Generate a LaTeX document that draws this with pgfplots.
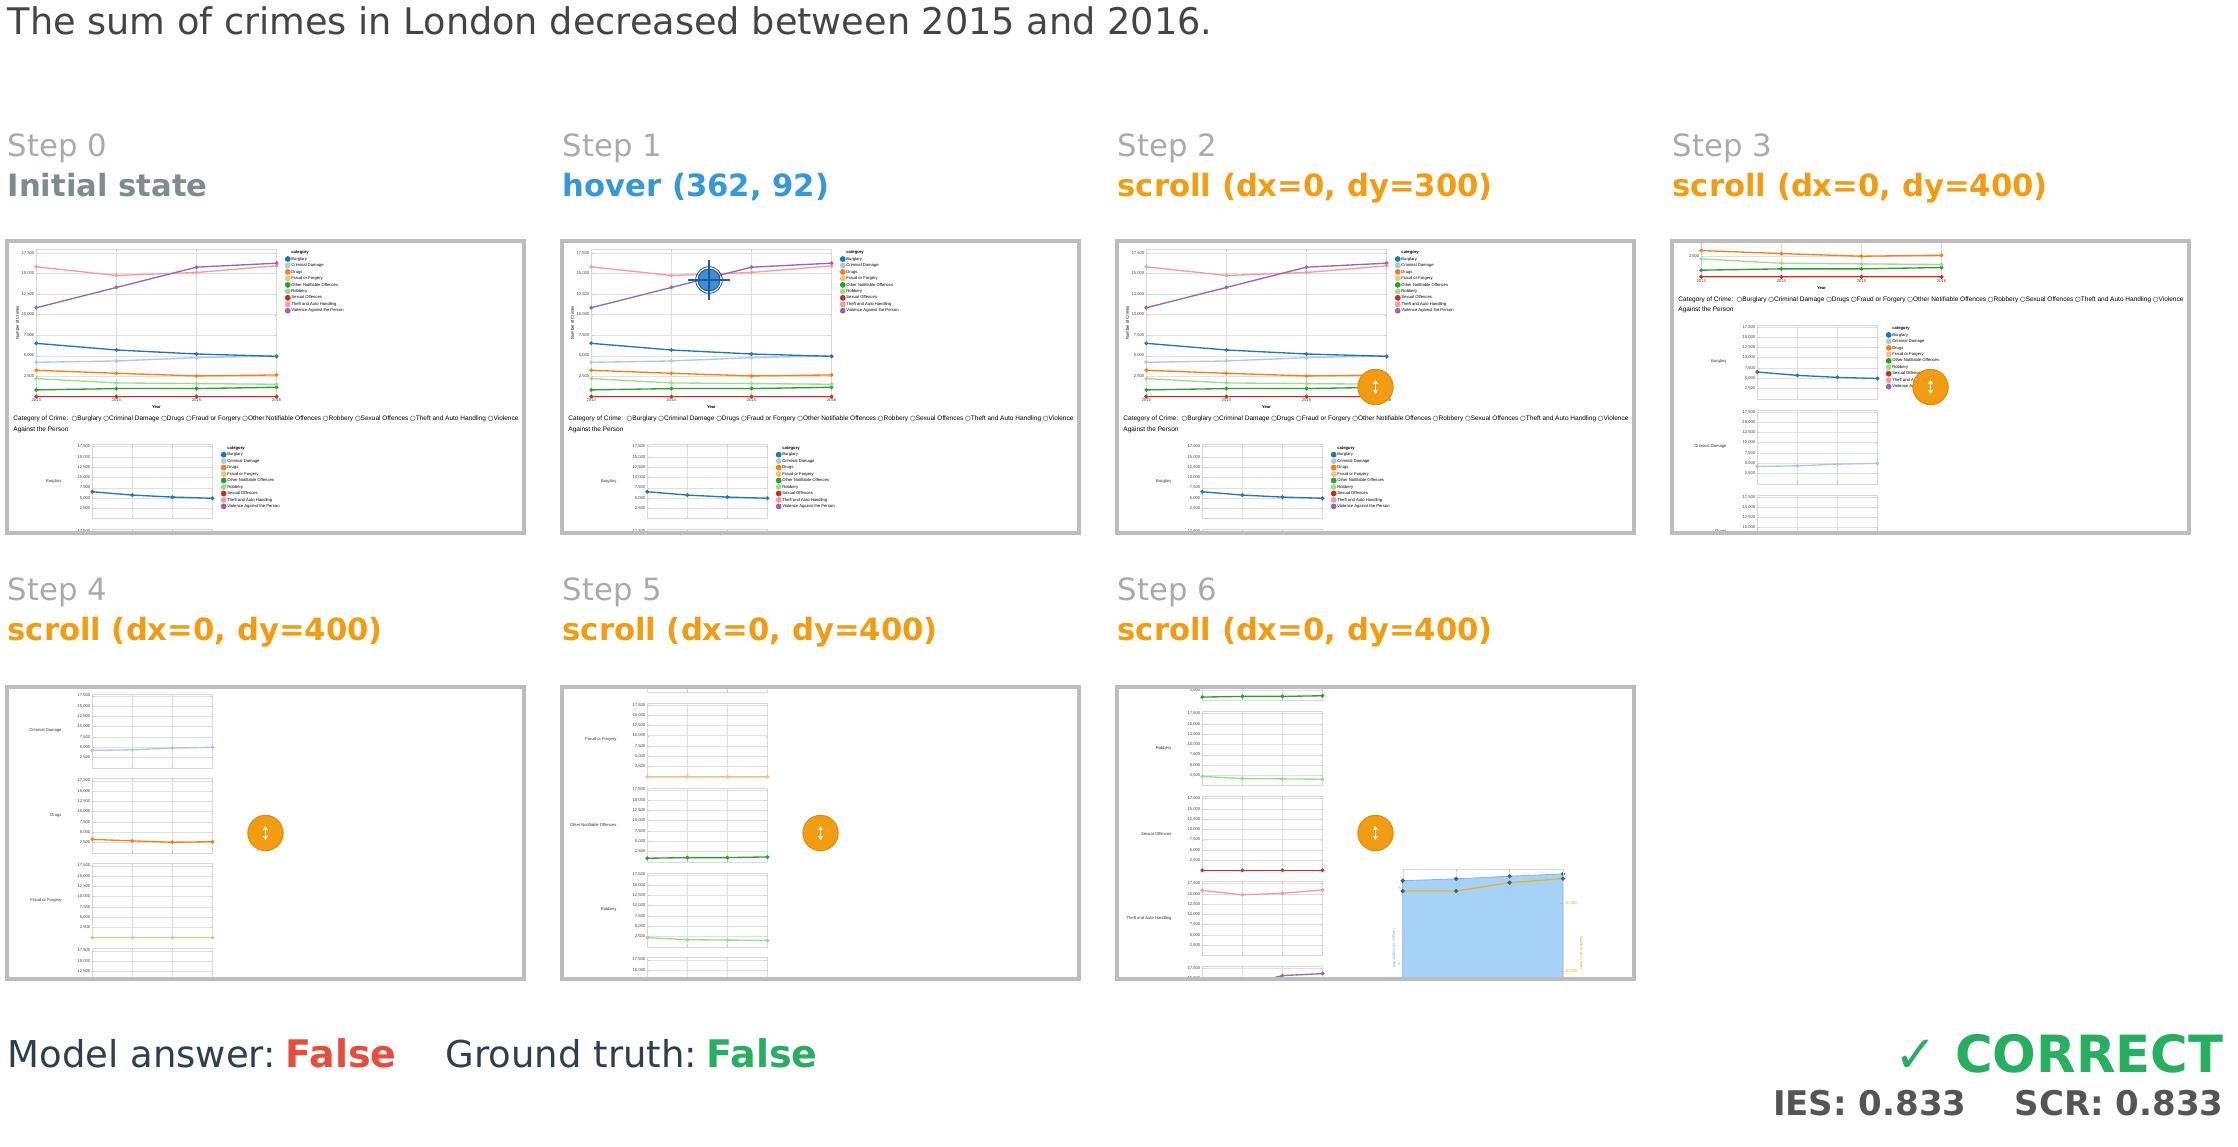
\documentclass[border=0pt]{standalone}
\usepackage{pgfplots}
\pgfplotsset{compat=1.18}
\usepackage{pgfplotstable}
\usepackage{fontspec}
\usepackage{graphicx}
\usetikzlibrary{arrows.meta}
\setmainfont{DejaVu Sans}
\newfontfamily\webfont{Liberation Sans}
\newfontfamily\symfont{DejaVu Sans}

% category colours (vega category20)
\definecolor{cBur}{HTML}{1F77B4}
\definecolor{cCD}{HTML}{AEC7E8}
\definecolor{cDr}{HTML}{FF7F0E}
\definecolor{cFF}{HTML}{FFBB78}
\definecolor{cON}{HTML}{2CA02C}
\definecolor{cRob}{HTML}{98DF8A}
\definecolor{cSO}{HTML}{D62728}
\definecolor{cTh}{HTML}{FF9896}
\definecolor{cVio}{HTML}{9467BD}
% page colours
\definecolor{titlegray}{HTML}{444444}
\definecolor{stepgray}{HTML}{AAAAAA}
\definecolor{initgray}{HTML}{7F8C8D}
\definecolor{hoverblue}{HTML}{3498DB}
\definecolor{scrollorange}{HTML}{F39C12}
\definecolor{darktext}{HTML}{2C3E50}
\definecolor{falsered}{HTML}{E74C3C}
\definecolor{okgreen}{HTML}{27AE60}
\definecolor{scoregray}{HTML}{555555}
\definecolor{framegray}{HTML}{BDBDBD}
\definecolor{iconedge}{HTML}{E08A0A}
\definecolor{markblue}{HTML}{3C8FD8}
\definecolor{markdark}{HTML}{1F5A99}
\definecolor{areablue}{HTML}{A6D2F8}
\definecolor{areaedge}{HTML}{7DB8EC}
\definecolor{navydot}{HTML}{3B5C8C}
\definecolor{gold}{HTML}{E6B422}

\newcommand\tinyf{\webfont\fontsize{1.25}{1.5}\selectfont}
\newcommand\radiotext{Category of Crime:\ \ {\symfont○}Burglary {\symfont○}Criminal Damage {\symfont○}Drugs {\symfont○}Fraud or Forgery {\symfont○}Other Notifiable Offences {\symfont○}Robbery {\symfont○}Sexual Offences {\symfont○}Theft and Auto Handling {\symfont○}Violence}

\pgfplotstableread{
year bur  cd   dr   ff on   rob  so th    vio
2013 6513 4207 3236 15 850  2225 45 15817 10841
2014 5704 4369 2872 15 1011 1699 45 14765 13309
2015 5218 4773 2549 15 1011 1618 45 15130 15777
2016 4935 4976 2670 15 1173 1537 45 15939 16262
}\crimes

\pgfplotstableread{
year pop  sum
2013 6.20 43530
2014 6.25 43530
2015 6.32 45980
2016 6.38 47160
}\totals

\pgfplotsset{
  web/.style={scale only axis, clip=false,
    xmin=2013, xmax=2016, ymin=0, ymax=18000,
    xtick={2013,2014,2015,2016}, ytick={2500,5000,...,17500},
    scaled x ticks=false, scaled y ticks=false,
    grid=major, major grid style={draw=black!12, line width=0.12pt},
    axis line style={draw=black!15, line width=0.12pt},
    major tick length=0.5pt, tick style={draw=black!25, line width=0.1pt},
    ticklabel style={font=\tinyf, text=black!75, inner sep=0.4pt},
    /pgf/number format/assume math mode=true,
    yticklabel style={/pgf/number format/.cd, 1000 sep={,}},
    xticklabel style={/pgf/number format/.cd, 1000 sep={}},
    legend cell align=left,
    legend image code/.code={\fill (0.6pt,0pt) circle (0.65pt);},
    legend style={draw=none, fill=none, at={(1,1)}, anchor=north west,
      xshift=2.3pt, inner sep=0pt, row sep=0.14pt, font=\tinyf,
      nodes={inner sep=0.25pt, text height=1.0pt, text depth=0.3pt}},
  },
  ser/.style={color=#1, line width=0.4pt, mark=*, mark size=0.35pt},
}

\newcommand\catimages{%
  \addlegendimage{empty legend}\addlegendentry{\textbf{category}}%
  \addlegendimage{ser=cBur}\addlegendentry{Burglary}%
  \addlegendimage{ser=cCD}\addlegendentry{Criminal Damage}%
  \addlegendimage{ser=cDr}\addlegendentry{Drugs}%
  \addlegendimage{ser=cFF}\addlegendentry{Fraud or Forgery}%
  \addlegendimage{ser=cON}\addlegendentry{Other Notifiable Offences}%
  \addlegendimage{ser=cRob}\addlegendentry{Robbery}%
  \addlegendimage{ser=cSO}\addlegendentry{Sexual Offences}%
  \addlegendimage{ser=cTh}\addlegendentry{Theft and Auto Handling}%
  \addlegendimage{ser=cVio}\addlegendentry{Violence Against the Person}%
}

% overview chart: panel x, panel y, scroll offset (in panel heights)
\newcommand\mainchart[3]{%
  \coordinate (m) at ({#1+29.26},{#2+(0.027-#3)*292});
  \begin{axis}[web, at={(m)}, anchor=north west, width=72.1pt, height=44.4pt,
    xlabel={\textbf{Year}}, ylabel={Number of Crimes},
    xlabel style={font=\tinyf, at={(axis description cs:0.5,-0.072)}, anchor=center},
    ylabel style={font=\tinyf, at={(axis description cs:-0.079,0.5)}, anchor=center}]
    \catimages
    \addplot[ser=cFF, forget plot] table[x=year,y=ff]{\crimes};
    \addplot[ser=cSO, forget plot] table[x=year,y=so]{\crimes};
    \addplot[ser=cON, forget plot] table[x=year,y=on]{\crimes};
    \addplot[ser=cRob, forget plot] table[x=year,y=rob]{\crimes};
    \addplot[ser=cDr, forget plot] table[x=year,y=dr]{\crimes};
    \addplot[ser=cCD, forget plot] table[x=year,y=cd]{\crimes};
    \addplot[ser=cBur, forget plot] table[x=year,y=bur]{\crimes};
    \addplot[ser=cTh, forget plot] table[x=year,y=th]{\crimes};
    \addplot[ser=cVio, forget plot] table[x=year,y=vio]{\crimes};
  \end{axis}}

% radio buttons line
\newcommand\radio[3]{%
  \node[anchor=west, inner sep=0] at ({#1+5.8},{#2+(0.6105-#3)*292})
    {\scalebox{\rs}{\webfont\fontsize{10}{12}\selectfont\radiotext}};
  \node[anchor=west, inner sep=0] at ({#1+5.8},{#2+(0.647-#3)*292})
    {\scalebox{\rs}{\webfont\fontsize{10}{12}\selectfont Against the Person}};}

% first small multiple with its legend
\newcommand\smlead[3]{%
  \coordinate (q) at ({#1+85.3},{#2+(0.697-#3)*292});
  \begin{axis}[web, at={(q)}, anchor=north west, width=36.06pt, height=22.2pt, xticklabels={}]
    \catimages
    \addplot[ser=cBur, forget plot] table[x=year,y=bur]{\crimes};
    \node[anchor=east, font=\tinyf, text=black!80, xshift=-5.7pt] at (rel axis cs:0,0.5) {Burglary};
  \end{axis}}

% small multiple k: X Y s k column colour name
\newcommand\sm[7]{%
  \coordinate (q) at ({#1+85.3},{#2+(0.697+0.291*#4-#3)*292});
  \begin{axis}[web, at={(q)}, anchor=north west, width=36.06pt, height=22.2pt, xticklabels={}]
    \addplot[ser=#6] table[x=year,y=#5]{\crimes};
    \node[anchor=east, font=\tinyf, text=black!80, xshift=-5.7pt] at (rel axis cs:0,0.5) {#7};
  \end{axis}}

\newcommand\topcontent[3]{%
  \mainchart{#1}{#2}{#3}%
  \radio{#1}{#2}{#3}%
  \smlead{#1}{#2}{#3}%
  \sm{#1}{#2}{#3}{1}{cd}{cCD}{Criminal Damage}}

\newcommand\scrollicon[2]{%
  \fill[scrollorange, draw=iconedge, line width=0.3pt] ({#1+258.5},{#2+146}) circle (5.3pt);
  \draw[white, line width=0.55pt, {Stealth[length=1.3pt,width=1.6pt]}-{Stealth[length=1.3pt,width=1.6pt]}]
    ({#1+258.5},{#2+139}) -- ({#1+258.5},{#2+153});}

\newcommand\frameit[2]{\draw[line width=1pt, draw=framegray] (#1,#2) rectangle ++(517,292);}

\newlength\radw
\settowidth\radw{\webfont\fontsize{10}{12}\selectfont\radiotext}

\begin{document}%
\pgfmathsetmacro\rs{151.5/\radw}%
\begin{tikzpicture}[x=0.3pt,y=-0.3pt]
\useasboundingbox (0,0) rectangle (2238,1146);

% title
\node[anchor=base west, inner sep=0, text=titlegray, font=\fontsize{11}{13}\selectfont]
  at (7,34) {The sum of crimes in London decreased between 2015 and 2016.};

% step captions
\foreach \x/\n in {7/0,562/1,1117/2,1672/3}
  \node[anchor=base west, inner sep=0, text=stepgray, font=\fontsize{9.2}{11}\selectfont] at (\x,156) {Step \n};
\foreach \x/\n in {7/4,562/5,1117/6}
  \node[anchor=base west, inner sep=0, text=stepgray, font=\fontsize{9.2}{11}\selectfont] at (\x,600) {Step \n};
\node[anchor=base west, inner sep=0, text=initgray, font=\bfseries\fontsize{9.2}{11}\selectfont] at (7,196) {Initial state};
\node[anchor=base west, inner sep=0, text=hoverblue, font=\bfseries\fontsize{9.2}{11}\selectfont] at (562,196) {hover (362, 92)};
\node[anchor=base west, inner sep=0, text=scrollorange, font=\bfseries\fontsize{9.2}{11}\selectfont] at (1117,196) {scroll (dx=0, dy=300)};
\node[anchor=base west, inner sep=0, text=scrollorange, font=\bfseries\fontsize{9.2}{11}\selectfont] at (1672,196) {scroll (dx=0, dy=400)};
\foreach \x in {7,562,1117}
  \node[anchor=base west, inner sep=0, text=scrollorange, font=\bfseries\fontsize{9.2}{11}\selectfont] at (\x,640) {scroll (dx=0, dy=400)};

% step 0
\begin{scope}
  \clip (8.5,242.5) rectangle ++(514,289);
  \topcontent{7}{241}{0}
\end{scope}
\frameit{7}{241}

% step 1
\begin{scope}
  \clip (563.5,242.5) rectangle ++(514,289);
  \topcontent{562}{241}{0}
  \fill[markblue, draw=markdark, line width=0.3pt] (709,280) circle (3.3pt);
  \draw[markdark, line width=0.25pt] (709,280) circle (4.0pt);
  \draw[markdark, line width=0.45pt] (688,280) -- (730,280);
  \draw[markdark, line width=0.45pt] (709,260) -- (709,300);
\end{scope}
\frameit{562}{241}

% step 2
\begin{scope}
  \clip (1118.5,242.5) rectangle ++(514,289);
  \topcontent{1117}{241}{0}
  \scrollicon{1117}{241}
\end{scope}
\frameit{1117}{241}

% step 3
\begin{scope}
  \clip (1673.5,242.5) rectangle ++(514,289);
  \topcontent{1672}{241}{0.41}
  \sm{1672}{241}{0.41}{2}{dr}{cDr}{Drugs}
  \scrollicon{1672}{241}
\end{scope}
\frameit{1672}{241}

% step 4
\begin{scope}
  \clip (8.5,688.5) rectangle ++(514,289);
  \sm{7}{687}{0.965}{1}{cd}{cCD}{Criminal Damage}
  \sm{7}{687}{0.965}{2}{dr}{cDr}{Drugs}
  \sm{7}{687}{0.965}{3}{ff}{cFF}{Fraud or Forgery}
  \sm{7}{687}{0.965}{4}{on}{cON}{Other Notifiable Offences}
  \scrollicon{7}{687}
\end{scope}
\frameit{7}{687}

% step 5
\begin{scope}
  \clip (563.5,688.5) rectangle ++(514,289);
  \sm{562}{687}{1.516}{2}{dr}{cDr}{Drugs}
  \sm{562}{687}{1.516}{3}{ff}{cFF}{Fraud or Forgery}
  \sm{562}{687}{1.516}{4}{on}{cON}{Other Notifiable Offences}
  \sm{562}{687}{1.516}{5}{rob}{cRob}{Robbery}
  \sm{562}{687}{1.516}{6}{so}{cSO}{Sexual Offences}
  \scrollicon{562}{687}
\end{scope}
\frameit{562}{687}

% step 6
\begin{scope}
  \clip (1118.5,688.5) rectangle ++(514,289);
  \sm{1117}{687}{2.068}{4}{on}{cON}{Other Notifiable Offences}
  \sm{1117}{687}{2.068}{5}{rob}{cRob}{Robbery}
  \sm{1117}{687}{2.068}{6}{so}{cSO}{Sexual Offences}
  \sm{1117}{687}{2.068}{7}{th}{cTh}{Theft and Auto Handling}
  \sm{1117}{687}{2.068}{8}{vio}{cVio}{Violence Against the Person}
  \coordinate (ar) at ({1117+285.7},{687+182.2});
  \begin{axis}[scale only axis, clip=false, at={(ar)}, anchor=north west,
    width=48.1pt, height=74.0pt,
    xmin=2013, xmax=2016, ymin=0, ymax=6.504,
    xtick={2013,2014,2015,2016}, xticklabels={}, ytick={4,6},
    xmajorgrids, major grid style={draw=black!10, line width=0.12pt},
    axis y line*=left, axis line style={draw=black!15, line width=0.12pt},
    major tick length=0.5pt, tick style={draw=areaedge, line width=0.1pt},
    /pgf/number format/assume math mode=true,
    ticklabel style={font=\tinyf, text=areaedge, inner sep=0.4pt},
    ylabel={population (in million)},
    ylabel style={font=\tinyf, text=areaedge, at={(axis description cs:-0.054,0.68)}, anchor=center}]
    \addplot[fill=areablue, draw=areaedge, line width=0.25pt] table[x=year,y=pop]{\totals} \closedcycle;
    \addplot[only marks, mark=*, mark size=0.4pt, mark options={draw=navydot, fill=navydot}] table[x=year,y=pop]{\totals};
  \end{axis}
  \begin{axis}[scale only axis, clip=false, at={(ar)}, anchor=north west,
    width=48.1pt, height=74.0pt,
    xmin=2013, xmax=2016, ymin=-22110, ymax=49900,
    ytick={20000,40000}, scaled y ticks=false,
    axis y line*=right, axis x line=none,
    axis line style={draw=black!15, line width=0.12pt},
    major tick length=0.5pt, tick style={draw=gold, line width=0.1pt},
    /pgf/number format/assume math mode=true,
    yticklabel style={/pgf/number format/.cd, 1000 sep={,}},
    ticklabel style={font=\tinyf, text=gold, inner sep=0.4pt},
    ylabel={Number of Crimes},
    ylabel style={font=\tinyf, text=gold, at={(axis description cs:1.116,0.66)}, anchor=center, rotate=180}]
    \addplot[color=gold, line width=0.4pt, mark=*, mark size=0.4pt, mark options={draw=navydot, fill=navydot}] table[x=year,y=sum]{\totals};
  \end{axis}
  \scrollicon{1117}{687}
\end{scope}
\frameit{1117}{687}

% verdict
\node[anchor=base west, inner sep=0, text=darktext, font=\fontsize{11.1}{13}\selectfont] at (7,1067) {Model answer:};
\node[anchor=base west, inner sep=0, text=falsered, font=\bfseries\fontsize{11.4}{13}\selectfont] at (285,1067) {False};
\node[anchor=base west, inner sep=0, text=darktext, font=\fontsize{11.1}{13}\selectfont] at (445,1067) {Ground truth:};
\node[anchor=base west, inner sep=0, text=okgreen, font=\bfseries\fontsize{11.4}{13}\selectfont] at (706,1067) {False};
\node[anchor=base east, inner sep=0, text=okgreen, font=\bfseries\fontsize{15.4}{18}\selectfont] at (2224,1072) {✓ CORRECT};
\node[anchor=base east, inner sep=0, text=scoregray, font=\bfseries\fontsize{10.2}{12}\selectfont] at (1967,1115) {IES: 0.833};
\node[anchor=base east, inner sep=0, text=scoregray, font=\bfseries\fontsize{10.2}{12}\selectfont] at (2224,1115) {SCR: 0.833};
\end{tikzpicture}%
\end{document}
